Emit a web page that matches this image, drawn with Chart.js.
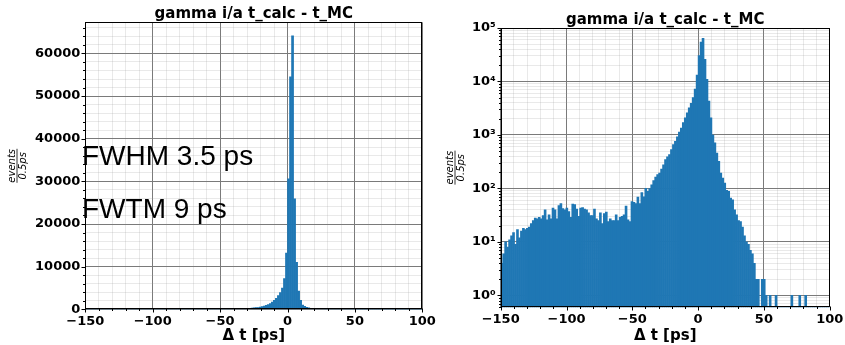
<!DOCTYPE html>
<html>
<head>
<meta charset="utf-8">
<script src="https://cdn.jsdelivr.net/npm/chart.js@4.4.1/dist/chart.umd.min.js"></script>
<style>
  html, body { margin: 0; padding: 0; background: #fff; }
  #wrap { position: relative; width: 845px; height: 345px; overflow: hidden; }
  canvas { position: absolute; top: 0; }
  #lin { left: 0; }
  #log { left: 430px; }
</style>
</head>
<body>
<div id="wrap">
  <canvas id="lin" width="445" height="345"></canvas>
  <canvas id="log" width="415" height="345"></canvas>
</div>
<script>
// histogram of t_calc - t_MC, bins of 1.5 ps starting at -150 ps
const binStart = -150;
const binWidth = 1.5;
const counts = [
  4, 6, 10, 8, 11, 13, 15, 9, 17, 12, 16, 18, 17, 18, 19, 22, 25, 28, 27, 29,
  27, 31, 40, 26, 32, 27, 43, 40, 27, 48, 52, 42, 40,
  43, 37, 29, 51, 50, 41, 30, 43, 44, 41, 40, 35, 31, 31, 41, 27, 25, 35,
  22, 34, 36, 24, 27, 25, 25, 32, 25, 29, 30, 32, 47, 26, 24,
  57, 55, 52, 69, 52, 84, 70, 101, 88, 100, 117, 141, 163, 181, 194, 230, 278, 347, 389, 430,
  535, 660, 760, 920, 1130, 1350, 1700, 2100, 2600, 3200,
  3900, 5000, 7200, 13200, 30600, 54500, 64100, 25900, 11000, 4300, 2100, 1000, 710, 460, 320, 194,
  157, 126, 92, 88, 66, 61, 40, 32, 25, 24, 19, 13, 10, 9, 7, 6,
  4, 2, 2, 0, 2, 2, 1, 0, 1, 0, 0, 1, 0, 0, 0, 0, 0, 0, 0, 1,
  0, 0, 0, 1, 0, 0, 1, 0, 0, 0, 0, 0, 0, 0, 0, 0, 0, 0, 0
];

const titleText = 'gamma i/a t_calc - t_MC';
const xTitle = 'Δ t [ps]';
const xTicks = [-150, -140, -130, -120, -110, -100, -90, -80, -70, -60, -50, -40, -30, -20, -10,
  0, 10, 20, 30, 40, 50, 60, 70, 80, 90, 100];
const xLabelTicks = [-150, -100, -50, 0, 50, 100];
const linYTicks = [0, 2000, 4000, 6000, 8000, 10000, 12000, 14000, 16000, 18000, 20000, 22000,
  24000, 26000, 28000, 30000, 32000, 34000, 36000, 38000, 40000, 42000, 44000, 46000, 48000,
  50000, 52000, 54000, 56000, 58000, 60000, 62000, 64000, 66000];
const linYLabelTicks = [0, 10000, 20000, 30000, 40000, 50000, 60000];
const logDecades = [1, 10, 100, 1000, 10000, 100000];
const logDecadeLabels = ['10⁰', '10¹', '10²', '10³', '10⁴', '10⁵'];
const logMinorBelow = [0.6, 0.7, 0.8, 0.9];
const logMinorMult = [2, 3, 4, 5, 6, 7, 8, 9];
const notes = ['FWHM 3.5 ps', 'FWTM 9 ps'];

const points = counts.map((c, i) => ({ x: binStart + binWidth * (i + 0.5), y: c }));

let logTicks = logMinorBelow.slice();
logDecades.forEach((d, k) => {
  logTicks.push(d);
  if (k < logDecades.length - 1) logMinorMult.forEach(m => logTicks.push(m * d));
});

const MAJOR = '#7a7a7a';
const MINOR = 'rgba(153,153,153,0.22)';
const BAR = '#1f77b4';
const tickFont = { family: 'DejaVu Sans', weight: 'bold', size: 13 };

const fmtMinus = v => String(v).replace('-', '\u2212');

// draws the box, short/long tick marks, title and the fraction y label
function framePlugin(opts) {
  return {
    id: 'frame',
    afterDraw(chart) {
      const ctx = chart.ctx, a = chart.chartArea;
      const L = Math.round(a.left) + 0.5, R = Math.round(a.right) - 0.5;
      const T = Math.round(a.top) + 0.5, B = Math.round(a.bottom) - 0.5;
      ctx.save();
      ctx.strokeStyle = '#000';
      ctx.lineWidth = 1;
      ctx.strokeRect(L, T, R - L, B - T);

      // tick marks
      const xs = chart.scales.x, ys = chart.scales.y;
      ctx.beginPath();
      xs.ticks.forEach(t => {
        const px = Math.round(xs.getPixelForValue(t.value)) + 0.5;
        const len = opts.xMajor(t.value) ? 4 : 2.5;
        ctx.moveTo(px, B); ctx.lineTo(px, B + len);
      });
      ys.ticks.forEach(t => {
        const py = Math.round(ys.getPixelForValue(t.value)) + 0.5;
        const len = opts.yMajor(t.value) ? 4 : 2.5;
        ctx.moveTo(L, py); ctx.lineTo(L - len, py);
      });
      ctx.stroke();

      // title
      ctx.fillStyle = '#000';
      ctx.font = 'bold 15px "DejaVu Sans"';
      ctx.textAlign = 'center';
      ctx.textBaseline = 'alphabetic';
      ctx.fillText(titleText, (a.left + a.right) / 2, opts.titleY);

      // y label  events / 0.5ps
      ctx.translate(opts.labelX, (a.top + a.bottom) / 2);
      ctx.rotate(-Math.PI / 2);
      ctx.font = 'italic 10px "DejaVu Sans"';
      ctx.fillText('events', 0, -2.5);
      ctx.fillText('0.5ps', 0, 9);
      ctx.beginPath();
      ctx.lineWidth = 0.8;
      ctx.moveTo(-17, 0); ctx.lineTo(17, 0);
      ctx.stroke();
      ctx.restore();

      if (opts.notes) {
        ctx.save();
        ctx.fillStyle = '#000';
        ctx.font = '28px "Liberation Sans"';
        ctx.textAlign = 'left';
        ctx.fillText(notes[0], 82, 165);
        ctx.fillText(notes[1], 82, 218);
        ctx.restore();
      }
    }
  };
}

function xScale(height) {
  return {
    type: 'linear', min: -150, max: 100, offset: false, z: 1,
    afterBuildTicks: s => { s.ticks = xTicks.map(v => ({ value: v })); },
    afterFit: s => { s.height = height; },
    border: { display: false },
    grid: {
      offset: false,
      color: c => xLabelTicks.includes(c.tick.value) ? MAJOR : MINOR,
      lineWidth: 1,
      tickLength: 4,
      tickColor: 'rgba(0,0,0,0)'
    },
    ticks: {
      autoSkip: false, maxRotation: 0, padding: 1, color: '#000', font: tickFont,
      callback: v => xLabelTicks.includes(v) ? fmtMinus(v) : ''
    },
    title: {
      display: true, text: xTitle, color: '#000', padding: 0,
      font: { family: 'DejaVu Sans', weight: 'bold', size: 15 }
    }
  };
}

const isXMajor = v => xLabelTicks.includes(v);

// left: linear y
new Chart(document.getElementById('lin'), {
  type: 'bar',
  data: {
    datasets: [{
      data: points, backgroundColor: BAR, borderWidth: 0,
      barPercentage: 1, categoryPercentage: 1
    }]
  },
  options: {
    responsive: false, animation: false, devicePixelRatio: 1,
    layout: { padding: { left: 0, right: 22.7, top: 22.3, bottom: 0 } },
    plugins: { legend: { display: false }, tooltip: { enabled: false } },
    scales: {
      x: xScale(35.7),
      y: {
        type: 'linear', min: 0, max: 67300, z: 1,
        afterBuildTicks: s => { s.ticks = linYTicks.map(v => ({ value: v })); },
        afterFit: s => { s.width = 85.3; },
        border: { display: false },
        grid: {
          color: c => linYLabelTicks.includes(c.tick.value) ? MAJOR : MINOR,
          lineWidth: 1, tickLength: 4, tickColor: 'rgba(0,0,0,0)'
        },
        ticks: {
          autoSkip: false, padding: 1, color: '#000', font: tickFont,
          callback: v => linYLabelTicks.includes(v) ? String(v) : ''
        }
      }
    }
  },
  plugins: [framePlugin({
    titleY: 17.5, labelX: 17,
    xMajor: isXMajor, yMajor: v => linYLabelTicks.includes(v), notes: true
  })]
});

// right: log y
new Chart(document.getElementById('log'), {
  type: 'bar',
  data: {
    datasets: [{
      data: points, backgroundColor: BAR, borderWidth: 0,
      barPercentage: 1, categoryPercentage: 1
    }]
  },
  options: {
    responsive: false, animation: false, devicePixelRatio: 1,
    layout: { padding: { left: 0, right: 15.3, top: 28, bottom: 0 } },
    plugins: { legend: { display: false }, tooltip: { enabled: false } },
    scales: {
      x: xScale(37.7),
      y: {
        type: 'logarithmic', min: 0.6, max: 100000, z: 1,
        afterBuildTicks: s => { s.ticks = logTicks.map(v => ({ value: v })); },
        afterFit: s => { s.width = 70.7; },
        border: { display: false },
        grid: {
          color: c => logDecades.includes(c.tick.value) ? MAJOR : MINOR,
          lineWidth: 1, tickLength: 4, tickColor: 'rgba(0,0,0,0)'
        },
        ticks: {
          autoSkip: false, padding: 1, color: '#000', font: tickFont,
          callback: v => {
            const k = logDecades.indexOf(v);
            return k >= 0 ? logDecadeLabels[k] : '';
          }
        }
      }
    }
  },
  plugins: [framePlugin({
    titleY: 23.5, labelX: 25,
    xMajor: isXMajor, yMajor: v => logDecades.includes(v), notes: false
  })]
});
</script>
</body>
</html>
